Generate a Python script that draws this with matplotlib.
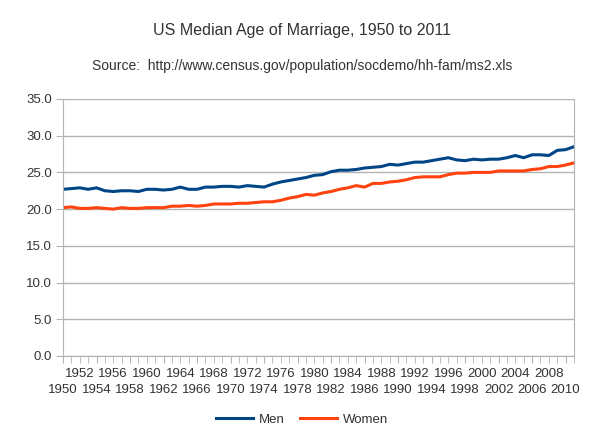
import numpy as np
import matplotlib
matplotlib.use("Agg")
import matplotlib.pyplot as plt
from matplotlib.ticker import FixedLocator, FixedFormatter

plt.rcParams['font.family'] = ['Liberation Sans', 'DejaVu Sans']

# data (census ms2.xls)
years = list(range(1950, 2012))
men = [22.7, 22.8, 22.9, 22.7, 22.9, 22.5, 22.4, 22.5, 22.5, 22.4,
       22.7, 22.7, 22.6, 22.7, 23.0, 22.7, 22.7, 23.0, 23.0, 23.1,
       23.1, 23.0, 23.2, 23.1, 23.0, 23.4, 23.7, 23.9, 24.1, 24.3,
       24.6, 24.7, 25.1, 25.3, 25.3, 25.4, 25.6, 25.7, 25.8, 26.1,
       26.0, 26.2, 26.4, 26.4, 26.6, 26.8, 27.0, 26.7, 26.6, 26.8,
       26.7, 26.8, 26.8, 27.0, 27.3, 27.0, 27.4, 27.4, 27.3, 28.0,
       28.1, 28.5]
women = [20.2, 20.3, 20.1, 20.1, 20.2, 20.1, 20.0, 20.2, 20.1, 20.1,
         20.2, 20.2, 20.2, 20.4, 20.4, 20.5, 20.4, 20.5, 20.7, 20.7,
         20.7, 20.8, 20.8, 20.9, 21.0, 21.0, 21.2, 21.5, 21.7, 22.0,
         21.9, 22.2, 22.4, 22.7, 22.9, 23.2, 23.0, 23.5, 23.5, 23.7,
         23.8, 24.0, 24.3, 24.4, 24.4, 24.4, 24.7, 24.9, 24.9, 25.0,
         25.0, 25.0, 25.2, 25.2, 25.2, 25.2, 25.4, 25.5, 25.8, 25.8,
         26.0, 26.3]

txt = '#333333'
fig = plt.figure(figsize=(6.04, 4.37), dpi=100)
ax = fig.add_axes([0.1043, 0.1854, 0.846, 0.5881])

ax.plot(years, men, color='#004586', lw=2.2, label='Men')
ax.plot(years, women, color='#ff420e', lw=2.2, label='Women')

ax.set_xlim(1950, 2011)
ax.set_ylim(0, 35)
ax.set_yticks(np.arange(0, 36, 5))
ax.set_yticklabels(['%.1f' % v for v in np.arange(0, 36, 5)])
ax.yaxis.grid(True, color='#b3b3b3', lw=1)
ax.set_axisbelow(True)

# staggered year labels: lower row on major ticks, upper row on minor ticks
lower = list(range(1950, 2011, 4))
rest = [y for y in years if y not in lower]
ax.xaxis.set_major_locator(FixedLocator(lower))
ax.xaxis.set_major_formatter(FixedFormatter([str(y) for y in lower]))
ax.xaxis.set_minor_locator(FixedLocator(rest))
ax.xaxis.set_minor_formatter(FixedFormatter(
    [str(y) if (y - 1952) % 4 == 0 and y <= 2008 else '' for y in rest]))
ax.tick_params(axis='x', which='major', length=5, color='#b3b3b3', pad=15,
               labelsize=9.5, labelcolor=txt)
ax.tick_params(axis='x', which='minor', length=5, color='#b3b3b3', pad=4,
               labelsize=9.5, labelcolor=txt)
ax.tick_params(axis='y', length=5, color='#b3b3b3', labelsize=9.5, labelcolor=txt, pad=3)

for s in ax.spines.values():
    s.set_color('#b3b3b3')
ax.spines['top'].set_visible(False)

fig.text(0.5, 0.93, 'US Median Age of Marriage, 1950 to 2011', ha='center', va='center',
         fontsize=11.5, color=txt)
fig.text(0.5, 0.85, 'Source:  http://www.census.gov/population/socdemo/hh-fam/ms2.xls',
         ha='center', va='center', fontsize=10, color=txt)

fig.legend(loc='center', bbox_to_anchor=(0.5, 0.04), ncol=2, frameon=False,
           fontsize=9.5, handlelength=2.8, columnspacing=1.2, handletextpad=0.4,
           labelcolor=txt)

fig.savefig('out.png', dpi=100)
